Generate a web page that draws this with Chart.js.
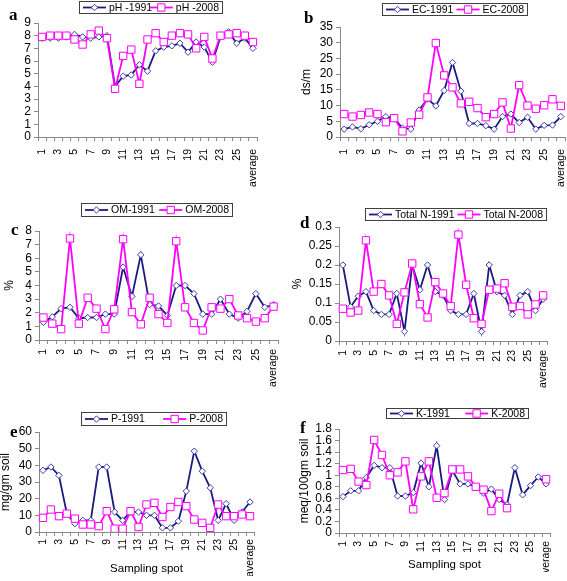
<!DOCTYPE html>
<html>
<head>
<meta charset="utf-8">
<script src="https://cdn.jsdelivr.net/npm/chart.js@4.4.1/dist/chart.umd.min.js"></script>
<style>
  html, body { margin: 0; width: 567px; height: 581px; overflow: hidden; background: #fff; }
  canvas { position: absolute; left: 0; top: 0; }
</style>
</head>
<body>
<canvas id="pa" width="620" height="620"></canvas>
<canvas id="pb" width="620" height="620"></canvas>
<canvas id="pc" width="620" height="620"></canvas>
<canvas id="pd" width="620" height="620"></canvas>
<canvas id="pe" width="620" height="620"></canvas>
<canvas id="pf" width="620" height="620"></canvas>
<script>
// sampling spots 1..26 plus the average
const spots = ['1','2','3','4','5','6','7','8','9','10','11','12','13','14','15','16','17','18','19','20','21','22','23','24','25','26','average'];

const ph1991 = [7.8,7.8,7.8,7.9,8.1,7.9,7.8,7.9,8.0,4.0,4.8,4.9,5.7,5.2,6.8,7.1,7.2,7.4,6.7,7.5,7.1,5.9,7.9,8.3,7.4,7.8,7.0];
const ph2008 = [7.9,8.0,8.0,8.0,7.7,7.3,8.1,8.4,7.8,3.8,6.4,6.9,4.2,7.7,8.2,7.5,8.0,8.2,8.1,7.0,7.9,6.2,8.0,8.1,8.2,8.0,7.5];

const ec1991 = [2.5,3.2,2.6,3.9,5.0,6.5,6.0,2.8,2.5,8.6,12.1,9.9,14.8,23.7,14.6,4.3,4.3,3.6,2.5,6.5,7.3,4.6,6.3,2.5,3.7,3.8,6.5];
const ec2008 = [7.3,6.5,7.0,7.8,7.3,4.7,6.0,1.8,4.6,7.1,12.6,29.9,19.6,15.8,10.7,11.2,9.2,6.3,7.3,11.0,2.7,16.5,10.0,9.0,10.1,12.0,9.9];

const om1991 = [1.3,1.7,2.3,2.4,1.6,1.65,1.65,1.9,1.9,5.35,3.2,6.25,2.6,2.5,1.8,4.0,4.0,3.4,1.9,1.9,3.0,1.9,1.6,2.1,3.4,2.4,2.6];
const om2008 = [1.65,1.2,0.8,7.45,1.2,3.1,2.3,0.8,2.25,7.4,2.05,1.15,3.1,1.9,1.25,7.25,2.4,1.25,0.7,2.4,2.3,3.0,1.8,1.6,1.35,1.6,2.45];

const n1991 = [0.2,0.09,0.118,0.13,0.08,0.07,0.07,0.125,0.025,0.2,0.135,0.2,0.13,0.12,0.08,0.07,0.07,0.125,0.025,0.2,0.13,0.12,0.07,0.12,0.13,0.08,0.11];
const n2008 = [0.085,0.075,0.08,0.265,0.13,0.15,0.12,0.045,0.128,0.204,0.097,0.062,0.155,0.125,0.092,0.28,0.148,0.06,0.045,0.135,0.138,0.152,0.09,0.092,0.07,0.096,0.12];

const p1991 = [37,39,34,11,5,7,7,39,39,12,7,12,12,10,10,2.5,2.5,6.5,24.5,48.5,36.5,26.5,7,17,7,12,18];
const p2008 = [8.5,13.5,9.5,11,8,4.5,4.5,3.5,12.5,2,2,12.5,3,16.5,17.5,9,15,18,15.5,7.5,5.5,2.5,16.5,9.5,9.5,10.5,9.5];

const k1991 = [0.63,0.73,0.73,0.96,1.17,1.13,1.13,0.64,0.64,0.7,1.21,0.8,1.51,0.58,1.08,0.85,0.85,0.8,0.69,0.76,0.58,0.49,1.13,0.66,0.82,0.97,0.85];
const k2008 = [1.09,1.11,0.89,0.83,1.61,1.35,1.0,1.05,1.24,0.41,0.98,1.24,0.61,0.69,1.1,1.1,0.98,0.8,0.75,0.38,0.68,0.43,null,null,null,null,0.93];

const FONT = "'Liberation Sans', Arial, sans-serif";
const NAVY = '#1b1b7e';
const PINK = '#ff00ff';
const AXIS = '#8a8a8a';
const CW = 620, CH = 620;

Chart.defaults.font.family = FONT;
Chart.defaults.color = '#000';

function marker(ctx, style, x, y, r, stroke) {
    ctx.beginPath();
    if (style === 'rect') {
        const s = r * Math.SQRT1_2;
        ctx.rect(x - s, y - s, 2 * s, 2 * s);
    } else {
        ctx.moveTo(x, y - r); ctx.lineTo(x + r, y); ctx.lineTo(x, y + r); ctx.lineTo(x - r, y);
        ctx.closePath();
    }
    ctx.fillStyle = '#fff';
    ctx.fill();
    ctx.strokeStyle = stroke;
    ctx.lineWidth = 1;
    ctx.stroke();
}

// boxed legend (line + marker + text) and the panel letter
const boxLegend = {
    id: 'boxLegend',
    afterDraw(chart, args, opts) {
        const ctx = chart.ctx;
        const [bx, by, bw, bh] = opts.box;
        ctx.save();
        ctx.fillStyle = '#fff';
        ctx.fillRect(bx, by, bw, bh);
        ctx.strokeStyle = '#404040';
        ctx.lineWidth = 1;
        ctx.strokeRect(bx + 0.5, by + 0.5, bw - 1, bh - 1);
        ctx.font = '10.5px ' + FONT;
        const sets = chart.data.datasets;
        const widths = sets.map(d => 26 + ctx.measureText(d.label).width);
        const gap = (bw - 8 - widths.reduce((s, w) => s + w, 0)) / (sets.length - 1);
        let x = bx + 4;
        const y = by + bh / 2;
        sets.forEach((d, i) => {
            ctx.strokeStyle = d.borderColor;
            ctx.lineWidth = d.borderWidth;
            ctx.beginPath(); ctx.moveTo(x, y); ctx.lineTo(x + 23, y); ctx.stroke();
            marker(ctx, d.pointStyle, x + 11.5, y, d.pointRadius, d.pointBorderColor);
            ctx.fillStyle = '#000';
            ctx.textBaseline = 'middle';
            ctx.textAlign = 'left';
            ctx.fillText(d.label, x + 26, y + 0.5);
            x += widths[i] + gap;
        });
        const [ch, lx, ly] = opts.letter;
        ctx.font = "bold 17px 'Liberation Serif', 'Times New Roman', serif";
        ctx.textBaseline = 'alphabetic';
        ctx.fillText(ch, lx, ly);
        ctx.restore();
    }
};

function makePanel(id, p) {
    const yw = p.left < 200 ? 36 : 50;
    const titlePad = p.ytitle ? p.ytitleX - (p.left - yw) - 7.2 : 0;
    new Chart(document.getElementById(id), {
        type: 'line',
        data: {
            labels: spots,
            datasets: [
                { label: p.names[0], data: p.a, borderColor: NAVY, borderWidth: 1.8,
                  pointStyle: 'rectRot', pointRadius: 3.2, pointBorderColor: '#3c3ca8',
                  pointBackgroundColor: '#fff', pointBorderWidth: 1, order: 1 },
                { label: p.names[1], data: p.b, borderColor: PINK, borderWidth: 1.8,
                  pointStyle: 'rect', pointRadius: 5.2, pointBorderColor: PINK,
                  pointBackgroundColor: '#fff', pointBorderWidth: 1, order: 0 }
            ]
        },
        options: {
            responsive: false,
            animation: false,
            layout: { padding: { left: p.left - yw, right: CW - p.right, top: p.top, bottom: CH - p.bottom - p.xh } },
            plugins: {
                legend: { display: false },
                tooltip: { enabled: false },
                boxLegend: { box: p.legend, letter: p.letter }
            },
            scales: {
                x: {
                    offset: true,
                    grid: { offset: true, drawOnChartArea: false, tickLength: 4, color: AXIS },
                    border: { color: AXIS },
                    ticks: {
                        autoSkip: false, maxRotation: 90, minRotation: 90, padding: p.xpad,
                        font: { size: 10.5 }, color: '#000',
                        callback: (v, i) => (i % 2 === 0 ? spots[i] : '')
                    },
                    title: { display: !!p.xtitle, text: p.xtitle || '', font: { size: 11.5 }, padding: 0 },
                    afterFit: s => { s.height = p.xh; }
                },
                y: {
                    min: 0, max: p.max,
                    grid: { drawOnChartArea: false, tickLength: 4, color: AXIS },
                    border: { color: AXIS },
                    ticks: {
                        stepSize: p.step, autoSkip: false, padding: 3, font: { size: 12 }, color: '#000',
                        callback: v => String(+v.toFixed(4))
                    },
                    title: { display: !!p.ytitle, text: p.ytitle || '', font: { size: 12 }, padding: { top: titlePad, bottom: 0 } },
                    afterFit: s => { s.width = yw; }
                }
            }
        },
        plugins: [boxLegend]
    });
}

makePanel('pa', { a: ph1991, b: ph2008, names: ['pH -1991', 'pH -2008'], max: 9, step: 1,
    left: 38, right: 257, top: 23, bottom: 137, xh: 50, xpad: 8,
    legend: [79, 1, 144, 13], letter: ['a', 9, 20] });

makePanel('pb', { a: ec1991, b: ec2008, names: ['EC-1991', 'EC-2008'], max: 35, step: 5,
    left: 340, right: 565, top: 27, bottom: 137, xh: 50, xpad: 8, ytitle: 'ds/m', ytitleX: 307,
    legend: [382, 3, 146, 13], letter: ['b', 304, 23] });

makePanel('pc', { a: om1991, b: om2008, names: ['OM-1991', 'OM-2008'], max: 8, step: 1,
    left: 39, right: 278, top: 231, bottom: 340, xh: 50, xpad: 5, ytitle: '%', ytitleX: 10,
    legend: [81, 203, 152, 14], letter: ['c', 11, 235] });

makePanel('pd', { a: n1991, b: n2008, names: ['Total N-1991', 'Total N-2008'], max: 0.3, step: 0.05,
    left: 339, right: 547, top: 227, bottom: 341, xh: 50, xpad: 5, ytitle: '%', ytitleX: 298,
    legend: [365, 208, 182, 13], letter: ['d', 300, 228] });

makePanel('pe', { a: p1991, b: p2008, names: ['P-1991', 'P-2008'], max: 60, step: 10,
    left: 39, right: 254, top: 432, bottom: 532, xh: 44, xpad: 3, ytitle: 'mg/gm soil', ytitleX: 6,
    xtitle: 'Sampling spot',
    legend: [81, 412, 146, 14], letter: ['e', 10, 437] });

makePanel('pf', { a: k1991, b: k2008, names: ['K-1991', 'K-2008'], max: 1.8, step: 0.2,
    left: 339, right: 550, top: 429, bottom: 533, xh: 39, xpad: 4, ytitle: 'meq/100gm soil', ytitleX: 305,
    xtitle: 'Sampling spot',
    legend: [386, 408, 143, 11], letter: ['f', 300, 433] });
</script>
</body>
</html>
